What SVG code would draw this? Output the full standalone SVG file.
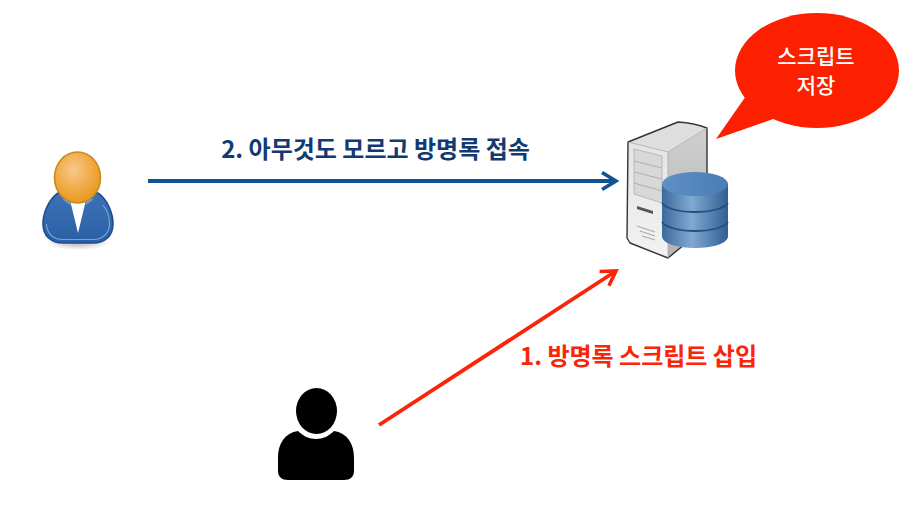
<svg xmlns="http://www.w3.org/2000/svg" width="911" height="531" viewBox="0 0 911 531">
<style>
.t{font-family:"Noto Sans CJK KR","Noto Sans",sans-serif;text-anchor:middle}
.b{font-weight:700}
.m{font-weight:500}
</style>
<defs>
<radialGradient id="face" cx="0.42" cy="0.35" r="0.7"><stop offset="0" stop-color="#f8c88c"/><stop offset="0.6" stop-color="#f0a840"/><stop offset="1" stop-color="#e8941c"/></radialGradient>
<linearGradient id="suit" x1="0" y1="0" x2="0" y2="1"><stop offset="0" stop-color="#3c72b4"/><stop offset="1" stop-color="#2a5fa6"/></linearGradient>
<linearGradient id="cyl" x1="0" y1="0" x2="1" y2="0"><stop offset="0" stop-color="#3c6a9c"/><stop offset="0.45" stop-color="#80a8d2"/><stop offset="1" stop-color="#2f5f93"/></linearGradient>
<linearGradient id="capg" x1="0" y1="0" x2="1" y2="0"><stop offset="0" stop-color="#5f90c4"/><stop offset="1" stop-color="#4a7db4"/></linearGradient>
<linearGradient id="front" x1="0" y1="0" x2="0" y2="1"><stop offset="0" stop-color="#e4e4e4"/><stop offset="1" stop-color="#f2f2f2"/></linearGradient>
<linearGradient id="side" x1="0" y1="0" x2="0" y2="1"><stop offset="0" stop-color="#cfcfcf"/><stop offset="1" stop-color="#b4b4b4"/></linearGradient>
<radialGradient id="shadow"><stop offset="0" stop-color="#888" stop-opacity=".6"/><stop offset="1" stop-color="#888" stop-opacity="0"/></radialGradient>
<marker id="ab" markerUnits="userSpaceOnUse" markerWidth="20" markerHeight="22" refX="16" refY="11" orient="auto"><path d="M2 2.500 L16 11 L2 19.500" fill="none" stroke="#0f5391" stroke-width="3.600"/></marker>
<marker id="ar" markerUnits="userSpaceOnUse" markerWidth="20" markerHeight="22" refX="16" refY="11" orient="auto"><path d="M2 2.500 L16 11 L2 19.500" fill="none" stroke="#fa2408" stroke-width="3.600"/></marker>
</defs>
<rect width="911" height="531" fill="#fff"/>
<g id="connectors">
<line x1="148" y1="181" x2="616" y2="181" stroke="#0f5391" stroke-width="3.800" marker-end="url(#ab)"/>
<line x1="379" y1="425" x2="616" y2="271" stroke="#fa2408" stroke-width="3.800" marker-end="url(#ar)"/>
</g>
<g id="user-victim">
<ellipse cx="78" cy="243" rx="32" ry="7" fill="url(#shadow)"/>
<path d="M58 193 C48 200 43 214 43 224 C43 236 51 243 63 243 L93 243 C105 243 113 236 113 224 C113 214 108 200 98 193 Z" fill="url(#suit)" stroke="#1d4f8f" stroke-width="1.600"/>
<path d="M46.500 224 C46.500 233 53 239.500 63 239.500 L93 239.500 C103 239.500 109.500 233 109.500 224 C109.500 217 107 210 103 205" fill="none" stroke="#7ba3d3" stroke-width="1.200"/>
<path d="M70 200 L78 233 L86 200 Z" fill="#fff"/>
<path d="M62 199 L70 205 L72 200 Z M94 199 L86 205 L84 200 Z" fill="#6d9ccf"/>
<ellipse cx="77.500" cy="177.500" rx="23" ry="25.500" fill="url(#face)" stroke="#c98a1e" stroke-width="1.600"/>
</g>
<g id="user-attacker">
<ellipse cx="316.500" cy="411" rx="20.500" ry="23" fill="#000"/>
<path d="M298 431 C303 436 309 439 316 439 C323 439 329 436 334 431 C347 433 354 443 354 458 L354 471 C354 477 350 480 344 480 L288 480 C282 480 278 477 278 471 L278 458 C278 443 285 433 298 431 Z" fill="#000"/>
</g>
<g id="server">
<path d="M668 152 L707 128 L707 226 L668 258 Z" fill="url(#side)"/>
<path d="M628 142 L668 152 L668 258 L630 243 L627 238 Z" fill="url(#front)"/>
<path d="M628 142 L678 122 L707 128 L668 152 Z" fill="#dedede"/>
<path d="M628 142 L678 122 Q694 123 707 128 L707 226 L668 258 L630 243 L627 238 Z" fill="none" stroke="#333" stroke-width="1.400" stroke-linejoin="round"/>
<path d="M628 142 L668 152 L707 128 M668 152 L668 258" fill="none" stroke="#aaa" stroke-width="0.800"/>
<path d="M634 149 L662 156 L662 203 L634 194 Z" fill="#d8d8d8" stroke="#b0b0b0" stroke-width="0.800"/>
<path d="M634 161 L662 168 M634 172 L662 179 M634 183 L662 191" stroke="#aaa" stroke-width="0.900"/>
<path d="M637 206 L653 211 L653 214 L637 209 Z" fill="#555"/>
<path d="M637 226 L655 232 M640 231 L655 236 M642 236 L655 240" stroke="#aaa" stroke-width="1.100"/>
<path d="M662 184 L662 236 C662 252 728 252 728 236 L728 184 Z" fill="url(#cyl)"/>
<ellipse cx="695" cy="184" rx="33" ry="12" fill="url(#capg)"/>
<path d="M662 203 C670 215 720 215 728 203 M662 222 C670 234 720 234 728 222" fill="none" stroke="#264f7d" stroke-width="1.800"/>
</g>
<g id="callout">
<ellipse cx="817" cy="70.500" rx="82" ry="57.500" fill="#fc2000"/>
<path d="M716 139 L746 96 L776 118 Z" fill="#fc2000"/>
<text class="t m" x="816" y="64" font-size="21" fill="#fff">스크립트</text>
<text class="t m" x="816" y="93" font-size="21" fill="#fff">저장</text>
</g>
<text class="t b" x="375.500" y="158" font-size="24" fill="#123a70">2. 아무것도 모르고 방명록 접속</text>
<text class="t b" x="638.500" y="365" font-size="24" fill="#fa2408">1. 방명록 스크립트 삽입</text>
</svg>
